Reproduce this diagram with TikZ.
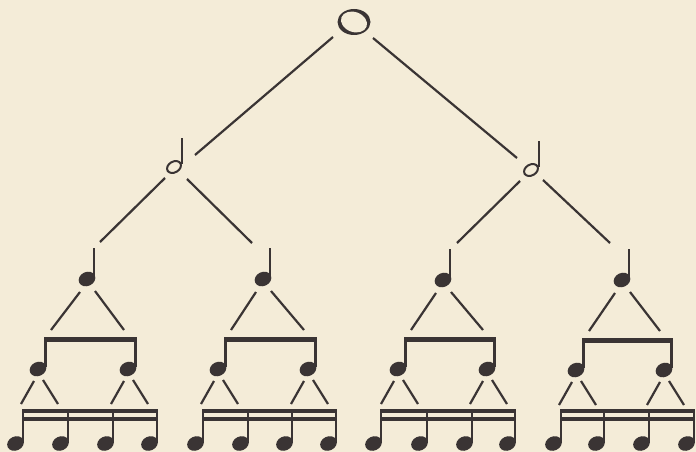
\documentclass[tikz,border=0pt]{standalone}
\usetikzlibrary{calc}
\definecolor{bg}{RGB}{244,236,216}
\definecolor{ink}{RGB}{58,52,52}
\begin{document}
\begin{tikzpicture}[x=1pt,y=-1pt,
  treeline/.style={ink, line width=2.2pt},
  stemline/.style={ink, line width=2.1pt},
  notehead/.pic={\fill[ink, rotate=25] (0,0) ellipse [x radius=8.6pt, y radius=7pt];},
  quarternote/.pic={\fill[ink, rotate=25] (0,0) ellipse [x radius=8.6pt, y radius=7pt];
                    \draw[stemline] (7.4,-2) -- (7.4,-31);},
  halfnote/.pic={\draw[ink, line width=2pt, rotate=30] (0,0) ellipse [x radius=7.4pt, y radius=5.4pt];
                 \draw[stemline] (8.4,-3) -- (8.4,-29);},
  wholenote/.pic={\fill[ink] (0,0) ellipse [x radius=16.5pt, y radius=13pt];
                  \fill[bg, rotate=-20] (0,0) ellipse [x radius=13.4pt, y radius=10pt];}
]
\fill[bg] (0,0) rectangle (696,452);
\useasboundingbox (0,0) rectangle (696,452);

% whole and half notes
\coordinate (W) at (354,22);
\coordinate (H1) at (174,167);
\coordinate (H2) at (531,170);
\pic at (W) {wholenote};
\pic at (H1) {halfnote};
\pic at (H2) {halfnote};

% groups: quarter, two eighths, four sixteenths
\foreach \i/\qx/\qy/\ea/\eb/\ey/\sa/\sb/\sc/\sd in {
  1/87/279/38/128/369/23/68/113/157,
  2/263/279/218/308/369/203/248/292/336,
  3/443/280/398/487/369/381/427/472/515,
  4/622/280/576/664/370/561/604/649/694}{
  \coordinate (Q\i) at (\qx,\qy);
  \coordinate (E\i a) at (\ea,\ey);
  \coordinate (E\i b) at (\eb,\ey);
  \pic at (Q\i) {quarternote};
  % quarter -> eighths
  \draw[treeline] ($(Q\i)+(-7,13)$) -- ($(E\i a)+(13,-39)$);
  \draw[treeline] ($(Q\i)+(8,12)$) -- ($(E\i b)+(-4,-39)$);
  % eighth notes
  \foreach \e in {a,b}{
    \pic at (E\i\e) {notehead};
    \draw[stemline] ($(E\i\e)+(7.5,-2)$) -- ($(E\i\e)+(7.5,-31)$);
    % eighth -> sixteenths
    \draw[treeline] ($(E\i\e)+(-4,12)$) -- ($(E\i\e)+(-17,35)$);
    \draw[treeline] ($(E\i\e)+(5,11)$) -- ($(E\i\e)+(20,35)$);
  }
  \fill[ink] ($(E\i a)+(6.4,-32)$) rectangle ($(E\i b)+(8.6,-27.5)$);
  % sixteenth notes
  \foreach \s [count=\k] in {\sa,\sb,\sc,\sd}{
    \coordinate (S\i\k) at ({\s-7.5},443.5);
    \pic at (S\i\k) {notehead};
    \draw[stemline] ($(S\i\k)+(7.5,-2)$) -- ($(S\i\k)+(7.5,-34.5)$);
  }
  \fill[ink] (\sa-1.1,408.5) rectangle (\sd+1.1,412.7);
  \fill[ink] (\sa-1.1,416.8) rectangle (\sd+1.1,421);
}

% whole -> halves
\draw[treeline] ($(W)+(-21,15)$) -- ($(H1)+(21,-12)$);
\draw[treeline] ($(W)+(19,16)$) -- ($(H2)+(-14,-12)$);
% halves -> quarters
\draw[treeline] ($(H1)+(-9,11)$) -- ($(Q1)+(13,-37)$);
\draw[treeline] ($(H1)+(13,12)$) -- ($(Q2)+(-11,-36)$);
\draw[treeline] ($(H2)+(-11,11)$) -- ($(Q3)+(14,-37)$);
\draw[treeline] ($(H2)+(12,10)$) -- ($(Q4)+(-12,-37)$);
\end{tikzpicture}
\end{document}
